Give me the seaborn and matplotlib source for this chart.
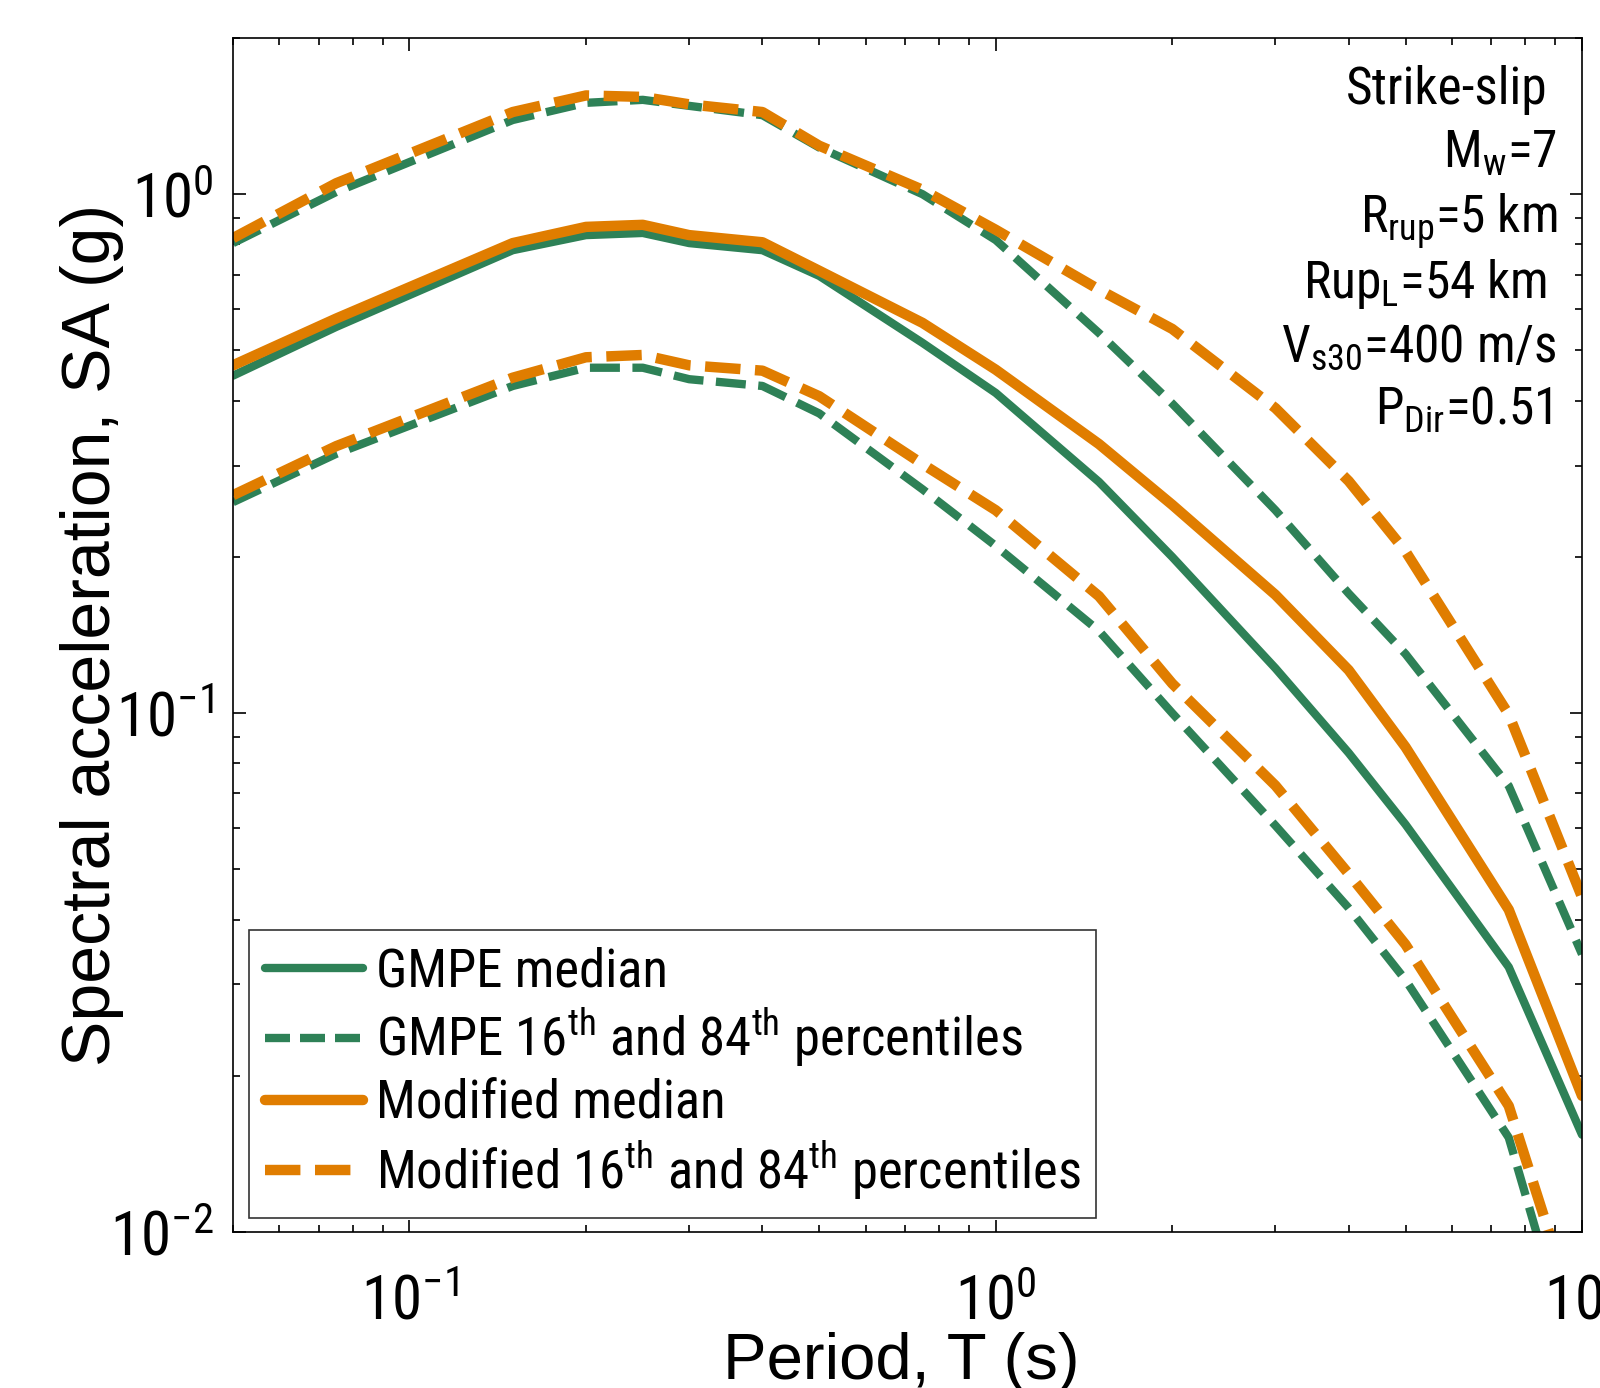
import numpy as np
import pandas as pd
import seaborn as sns
import matplotlib.pyplot as plt
from matplotlib import font_manager
from matplotlib.lines import Line2D
from matplotlib.ticker import LogLocator, NullFormatter, FixedLocator

# periods (s) and spectral accelerations (g)
periods = [0.05, 0.075, 0.15, 0.2, 0.25, 0.3, 0.4, 0.5, 0.75, 1.0, 1.5, 2.0, 3.0, 4.0, 5.0, 7.5, 10.0]
gmpe_median = [0.447, 0.555, 0.78, 0.834, 0.842, 0.805, 0.78, 0.696, 0.517, 0.414, 0.279, 0.2, 0.122, 0.0838, 0.061, 0.0324, 0.0154]
mod_median = [0.468, 0.576, 0.805, 0.865, 0.873, 0.834, 0.808, 0.712, 0.565, 0.459, 0.33, 0.252, 0.169, 0.121, 0.086, 0.0418, 0.0183]
gmpe_84 = [0.805, 1.01, 1.39, 1.50, 1.52, 1.48, 1.42, 1.23, 1.0, 0.816, 0.54, 0.395, 0.246, 0.17, 0.13, 0.0724, 0.0343]
mod_84 = [0.823, 1.05, 1.44, 1.55, 1.54, 1.49, 1.44, 1.24, 1.02, 0.854, 0.655, 0.55, 0.387, 0.28, 0.205, 0.0994, 0.0442]
gmpe_16 = [0.255, 0.316, 0.427, 0.463, 0.463, 0.44, 0.427, 0.378, 0.27, 0.21, 0.144, 0.1, 0.0607, 0.0421, 0.0306, 0.0152, 0.005]
mod_16 = [0.263, 0.327, 0.443, 0.485, 0.49, 0.468, 0.457, 0.408, 0.302, 0.246, 0.168, 0.114, 0.0725, 0.049, 0.0358, 0.0175, 0.0063]

legend_labels = ["GMPE median",
                 r"GMPE 16$^\mathregular{th}$ and 84$^\mathregular{th}$ percentiles",
                 "Modified median",
                 r"Modified 16$^\mathregular{th}$ and 84$^\mathregular{th}$ percentiles"]
info_lines = ["Strike-slip",
              r"M$_\mathregular{w}$=7",
              r"R$_\mathregular{rup}$=5 km",
              r"Rup$_\mathregular{L}$=54 km",
              r"V$_\mathregular{s30}$=400 m/s",
              r"P$_\mathregular{Dir}$=0.51"]
xtick_labels = [r"10$^\mathregular{-1}$", r"10$^\mathregular{0}$", r"10$^\mathregular{1}$"]
ytick_labels = [r"10$^\mathregular{-2}$", r"10$^\mathregular{-1}$", r"10$^\mathregular{0}$"]

GREEN = "#2e8157"
ORANGE = "#e07d00"

sns.set_style("ticks")
names = {f.name for f in font_manager.fontManager.ttflist}
narrow = "Liberation Sans"
for cand in ["Liberation Sans Narrow", "Arial Narrow", "Roboto Condensed", "Open Sans Condensed"]:
    if cand in names:
        narrow = cand
        break
plt.rcParams["font.family"] = [narrow, "DejaVu Sans"]
plt.rcParams["mathtext.fontset"] = "custom"
plt.rcParams["mathtext.rm"] = narrow
plt.rcParams["mathtext.it"] = narrow
plt.rcParams["axes.linewidth"] = 1.2
for key in ["text.color", "axes.labelcolor", "xtick.color", "ytick.color", "axes.edgecolor"]:
    plt.rcParams[key] = "black"

df = pd.DataFrame({"T": periods, "gmpe_med": gmpe_median, "mod_med": mod_median,
                   "gmpe_84": gmpe_84, "mod_84": mod_84, "gmpe_16": gmpe_16, "mod_16": mod_16})

fig = plt.figure(figsize=(16, 13.88), dpi=100)
ax = fig.add_axes([233 / 1600, 1 - 1232 / 1388, (1582 - 233) / 1600, (1232 - 38) / 1388])

g_lw, o_lw = 6.0, 7.5
g_dash = (0, (3.6, 1.5))
o_dash = (0, (3.4, 1.4))

for col in ["gmpe_84", "gmpe_16"]:
    sns.lineplot(data=df, x="T", y=col, ax=ax, color=GREEN, lw=g_lw, linestyle=g_dash, legend=False)
sns.lineplot(data=df, x="T", y="gmpe_med", ax=ax, color=GREEN, lw=g_lw, legend=False)
for col in ["mod_84", "mod_16"]:
    sns.lineplot(data=df, x="T", y=col, ax=ax, color=ORANGE, lw=o_lw, linestyle=o_dash, legend=False)
sns.lineplot(data=df, x="T", y="mod_med", ax=ax, color=ORANGE, lw=o_lw, legend=False)

ax.set_xscale("log")
ax.set_yscale("log")
ax.set_xlim(0.05, 10)
ax.set_ylim(0.01, 2)

ax.xaxis.set_major_locator(FixedLocator([0.1, 1, 10]))
ax.yaxis.set_major_locator(FixedLocator([0.01, 0.1, 1]))
ax.xaxis.set_minor_locator(LogLocator(base=10, subs=np.arange(2, 10)))
ax.yaxis.set_minor_locator(LogLocator(base=10, subs=np.arange(2, 10)))
ax.xaxis.set_minor_formatter(NullFormatter())
ax.yaxis.set_minor_formatter(NullFormatter())
ax.set_xticklabels(xtick_labels)
ax.set_yticklabels(ytick_labels)
ax.tick_params(which="both", direction="in", top=True, right=True, width=1.2)
ax.tick_params(which="major", length=9)
ax.tick_params(which="minor", length=5)
ax.tick_params(axis="x", labelsize=44, pad=30)
ax.tick_params(axis="y", labelsize=44, pad=14)
for side in ["top", "right"]:
    ax.spines[side].set_visible(True)

ax.set_xlabel("Period, T (s)", fontsize=47, family=["Liberation Sans", "DejaVu Sans"])
ax.xaxis.set_label_coords(0.495, -0.084)
ax.set_ylabel("Spectral acceleration, SA (g)", fontsize=49,
              family=["Liberation Sans", "DejaVu Sans"], labelpad=-10)

# right edges and baselines of the annotation lines, in figure pixels
info_right = [1547, 1557, 1557, 1547, 1557, 1552]
info_base = [104, 168, 233, 298, 362, 425]
for txt, xr, yb in zip(info_lines, info_right, info_base):
    fig.text(xr / 1600, 1 - yb / 1388, txt, ha="right", va="baseline", fontsize=37)

handles = [Line2D([], [], color=GREEN, lw=g_lw),
           Line2D([], [], color=GREEN, lw=g_lw, linestyle=(0, (3.0, 1.2))),
           Line2D([], [], color=ORANGE, lw=o_lw),
           Line2D([], [], color=ORANGE, lw=o_lw, linestyle=(0, (3.4, 1.4)))]
leg = ax.legend(handles, legend_labels, loc="lower left", bbox_to_anchor=(0.012, 0.012),
                fontsize=38, frameon=True, fancybox=False, edgecolor="black",
                handlelength=1.85, handletextpad=0.25, borderpad=0.3, labelspacing=0.18,
                borderaxespad=0)
leg.get_frame().set_linewidth(1.2)

fig.savefig("out.png", dpi=100)
